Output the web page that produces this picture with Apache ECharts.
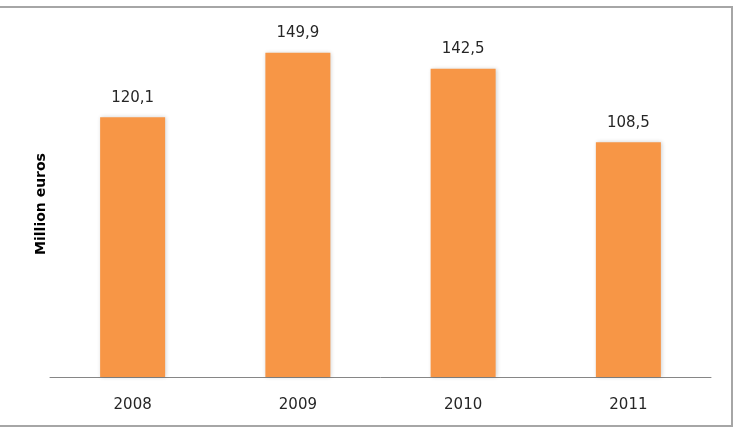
<!DOCTYPE html>
<html>
<head>
<meta charset="utf-8">
<script src="https://cdn.jsdelivr.net/npm/echarts@6/dist/echarts.min.js"></script>
<style>
  html, body { margin: 0; padding: 0; background: #fff; }
  #main { width: 734px; height: 429px; }
</style>
</head>
<body>
<div id="main"></div>
<script>
var years = ['2008', '2009', '2010', '2011'];
var values = [120.1, 149.9, 142.5, 108.5];

var chart = echarts.init(document.getElementById('main'));
chart.setOption({
  animation: false,
  textStyle: { fontFamily: 'DejaVu Sans' },
  graphic: [{
    type: 'rect',
    shape: { x: -5, y: 7, width: 737, height: 419 },
    style: { fill: 'none', stroke: '#a6a6a6', lineWidth: 2 },
    silent: true
  }],
  grid: { left: 50, right: 23, top: 31, bottom: 52 },
  xAxis: {
    type: 'category',
    data: years,
    axisLine: { lineStyle: { color: '#868686', width: 1 } },
    axisTick: { show: false },
    axisLabel: { color: '#262626', fontSize: 15, margin: 21 }
  },
  yAxis: {
    type: 'value',
    min: 0,
    max: 160,
    name: 'Million euros',
    nameLocation: 'middle',
    nameGap: 2,
    nameRotate: 90,
    nameTextStyle: { color: '#000', fontSize: 14, fontWeight: 'bold', fontFamily: 'DejaVu Sans' },
    axisLine: { show: false },
    axisTick: { show: false },
    axisLabel: { show: false },
    splitLine: { show: false }
  },
  series: [{
    type: 'bar',
    data: values,
    barWidth: 65,
    itemStyle: {
      color: '#f79646',
      shadowColor: 'rgba(0,0,0,0.18)',
      shadowBlur: 4,
      shadowOffsetX: 1
    },
    label: {
      show: true,
      position: 'top',
      distance: 12,
      color: '#262626',
      fontSize: 15,
      formatter: function (p) { return String(p.value).replace('.', ','); }
    }
  }]
});
</script>
</body>
</html>
